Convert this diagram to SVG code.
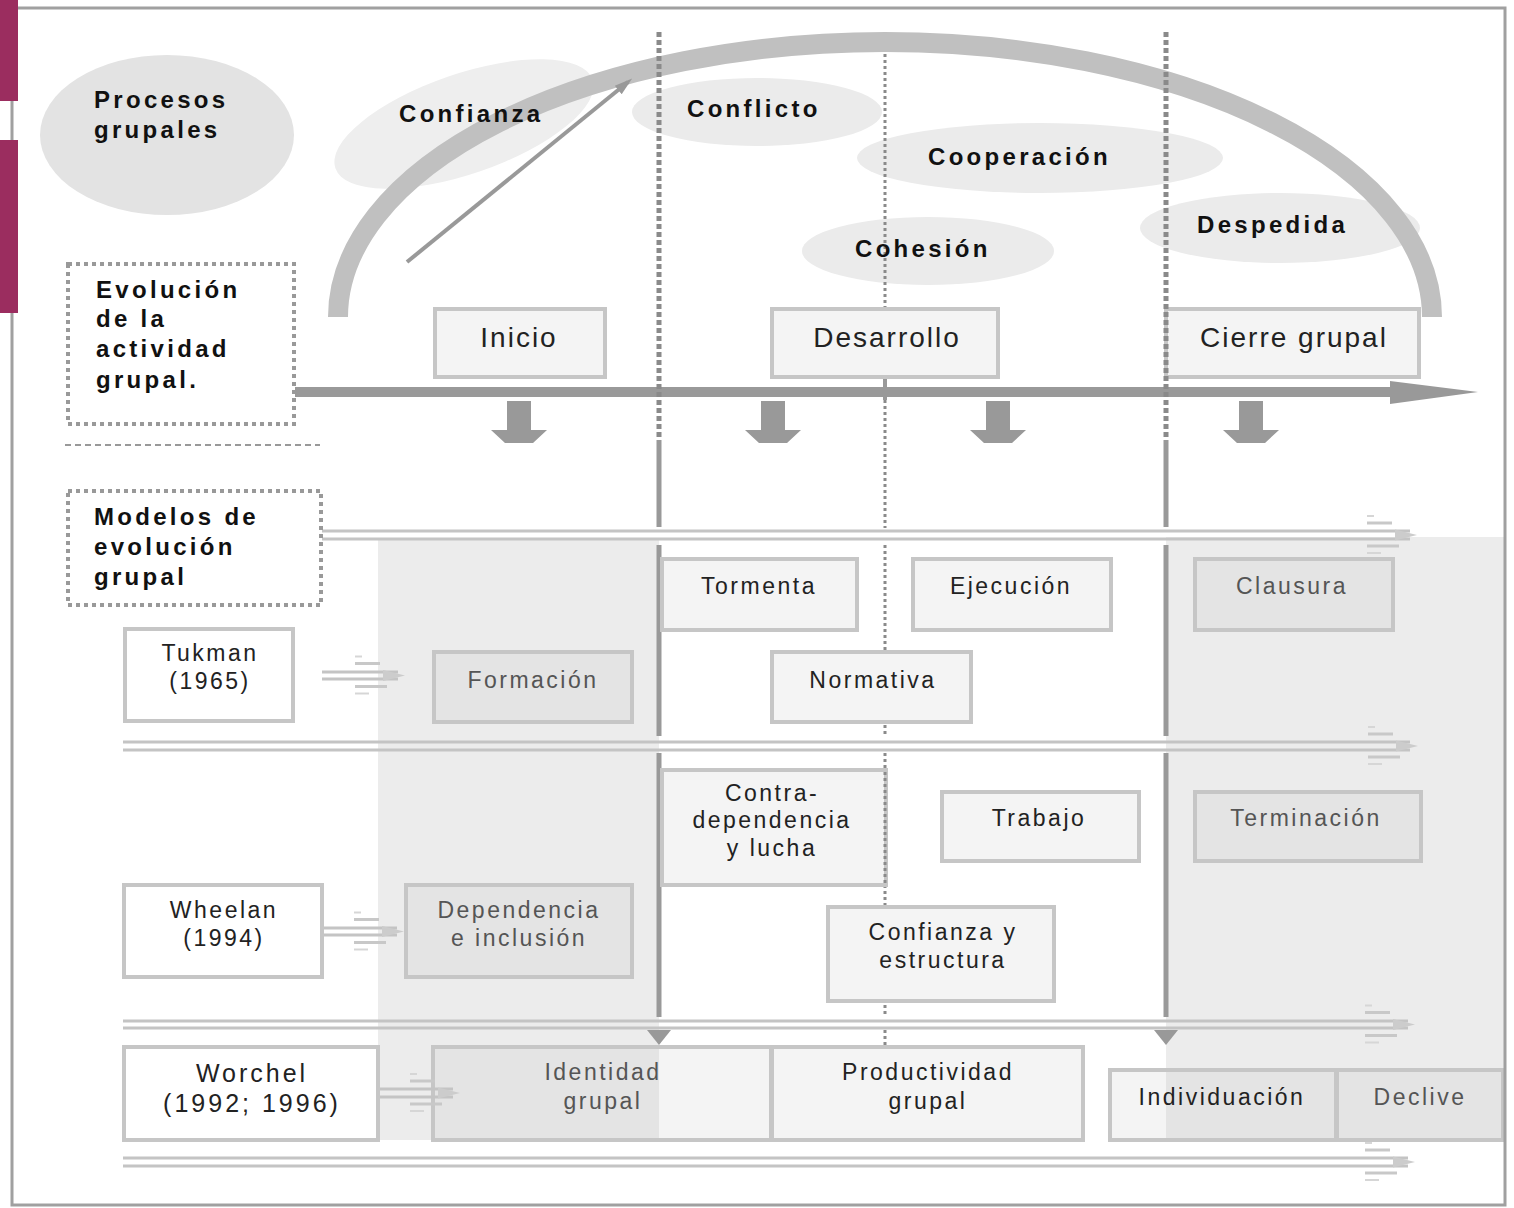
<svg xmlns="http://www.w3.org/2000/svg" width="1514" height="1208" viewBox="0 0 1514 1208">
<defs>
<style>
.b{font-family:"Liberation Sans",Arial,sans-serif;font-weight:bold;font-size:24px;letter-spacing:3.3px;fill:#111}
.t{font-family:"Liberation Sans",Arial,sans-serif;font-size:23px;letter-spacing:2.5px;fill:#222;text-anchor:middle}
.tg{fill:#555}
.ph{font-size:28px;letter-spacing:2px}
.wo{font-size:25px;letter-spacing:3px}
.box{stroke:#c6c6c6;stroke-width:4}
.nf{fill:none}
.lt{fill:#f4f4f4}
.dk{fill:#e4e4e4}
.wh{fill:#fff}
.el{fill:#ebebeb}
.row{stroke:#c4c4c4;stroke-width:3;fill:none}
.vs{stroke:#999;stroke-width:5;fill:none}
.vd{stroke:#8a8a8a;stroke-width:5;stroke-dasharray:5 3;fill:none}
.vt{stroke:#8a8a8a;stroke-width:3;stroke-dasharray:3 3;fill:none}
.dot{fill:none;stroke:#999;stroke-width:4;stroke-dasharray:4 4}
</style>
<g id="tip">
<path d="M-50 -19h7" stroke="#d6d6d6" stroke-width="2" fill="none"/>
<path d="M-50 -12h25" stroke="#c8c8c8" stroke-width="3" fill="none"/>
<path d="M-50 11h32" stroke="#c8c8c8" stroke-width="3" fill="none"/>
<path d="M-50 18h14" stroke="#d6d6d6" stroke-width="2" fill="none"/>
<polygon points="-22,-5.5 0,0 -22,5.5" fill="#cccccc"/>
</g>
<polygon id="down" points="-12,401 12,401 12,430 28,430 14,443 -14,443 -28,430 -12,430" fill="#999"/>
<polygon id="vtri" points="-12,1030 12,1030 0,1045" fill="#999"/>
<marker id="ah" viewBox="0 0 10 10" refX="7" refY="5" markerWidth="4.5" markerHeight="4.5" orient="auto">
<path d="M0,2 L10,5 L0,8 z" fill="#999"/>
</marker>
</defs>

<rect width="1514" height="1208" fill="#fff"/>

<!-- shaded regions -->
<rect x="378" y="540" width="281" height="600" fill="#ececec"/>
<rect x="1166" y="537" width="339" height="533" fill="#ececec"/>

<!-- process ellipses -->
<g id="procesos">
<ellipse cx="167" cy="135" rx="127" ry="80" fill="#e3e3e3"/>
<text class="b" x="94" y="108">Procesos</text>
<text class="b" x="94" y="138">grupales</text>
</g>
<g id="confianza">
<ellipse cx="464" cy="124" rx="136" ry="50" transform="rotate(-19 464 124)" fill="#eeeeee"/>
</g>
<g id="conflicto"><ellipse class="el" cx="757" cy="112" rx="125" ry="34"/></g>
<g id="cooperacion"><ellipse class="el" cx="1040" cy="158" rx="183" ry="35"/></g>
<g id="cohesion"><ellipse class="el" cx="928" cy="251" rx="126" ry="34"/></g>
<g id="despedida"><ellipse class="el" cx="1280" cy="228" rx="140" ry="35"/></g>

<!-- connectors -->
<g id="connectors">
<path d="M338 317 A547 275 0 0 1 1432 317" fill="none" stroke="#c0c0c0" stroke-width="20"/>
<line x1="407" y1="262" x2="628" y2="82" stroke="#999" stroke-width="4" marker-end="url(#ah)"/>
<path class="vt" d="M885 54V307M885 400V528M885 545V736M885 753V1017M885 1030V1047"/>
<path d="M885 378V400" stroke="#999" stroke-width="4"/>
<path class="vs" d="M659 440V527M659 545V736M659 753V1017M1166 440V527M1166 545V736M1166 753V1017"/>
<use href="#vtri" x="659"/>
<use href="#vtri" x="1166"/>
<line x1="295" y1="392" x2="1395" y2="392" stroke="#999" stroke-width="10"/>
<polygon points="1390,381 1478,392 1390,404" fill="#999"/>
<use href="#down" x="519"/>
<use href="#down" x="773"/>
<use href="#down" x="998"/>
<use href="#down" x="1251"/>
<line x1="65" y1="445" x2="320" y2="445" stroke="#999" stroke-width="2" stroke-dasharray="6 4"/>
<path class="row" d="M322 531H1410M322 539H1410"/>
<use href="#tip" x="1417" y="535"/>
<path class="row" d="M123 742H1410M123 750H1410"/>
<use href="#tip" x="1418" y="746"/>
<path class="row" d="M123 1021H1408M123 1028H1408"/>
<use href="#tip" x="1415" y="1024.5"/>
<path class="row" d="M123 1158H1408M123 1166H1408"/>
<use href="#tip" x="1415" y="1162"/>
<path class="row" d="M322 672H398M322 679H398"/>
<use href="#tip" x="405" y="675.5"/>
<path class="row" d="M324 928H397M324 935H397"/>
<use href="#tip" x="404" y="931.5"/>
</g>

<!-- labels in ellipses -->
<text class="b" x="399" y="122">Confianza</text>
<text class="b" x="687" y="117">Conflicto</text>
<text class="b" x="928" y="165">Cooperación</text>
<text class="b" x="855" y="257">Cohesión</text>
<text class="b" x="1197" y="233">Despedida</text>

<!-- phase boxes -->
<g id="inicio"><rect class="box lt" x="435" y="309" width="170" height="68"/><text class="t ph" x="519" y="347">Inicio</text></g>
<g id="desarrollo"><rect class="box lt" x="772" y="309" width="226" height="68"/><text class="t ph" x="887" y="347">Desarrollo</text></g>
<g id="cierre"><rect class="box lt" x="1166" y="309" width="253" height="68"/><text class="t ph" x="1294" y="347">Cierre grupal</text></g>

<path class="vd" d="M659 32V440M1166 32V440"/>

<g id="evolucion">
<rect class="dot" x="68" y="264" width="226" height="160"/>
<text class="b" x="96" y="298">Evolución</text>
<text class="b" x="96" y="327">de la</text>
<text class="b" x="96" y="357">actividad</text>
<text class="b" x="96" y="388">grupal.</text>
</g>
<g id="modelos">
<rect class="dot" x="68" y="491" width="253" height="114"/>
<text class="b" x="94" y="525">Modelos de</text>
<text class="b" x="94" y="555">evolución</text>
<text class="b" x="94" y="585">grupal</text>
</g>

<g id="tukman"><rect class="box wh" x="125" y="629" width="168" height="92"/><text class="t" x="210" y="661">Tukman</text><text class="t" x="210" y="689">(1965)</text></g>
<g id="formacion"><rect class="box dk" x="434" y="652" width="198" height="70"/><text class="t tg" x="533" y="688">Formación</text></g>
<g id="tormenta"><rect class="box lt" x="662" y="559" width="195" height="71"/><text class="t" x="759" y="594">Tormenta</text></g>
<g id="ejecucion"><rect class="box lt" x="913" y="559" width="198" height="71"/><text class="t" x="1011" y="594">Ejecución</text></g>
<g id="clausura"><rect class="box dk" x="1195" y="559" width="198" height="71"/><text class="t tg" x="1292" y="594">Clausura</text></g>
<g id="normativa"><rect class="box lt" x="772" y="652" width="199" height="70"/><text class="t" x="873" y="688">Normativa</text></g>

<g id="contra"><rect class="box lt" x="662" y="770" width="224" height="115"/><path class="vt" d="M885 772V883"/><text class="t" x="772" y="801">Contra-</text><text class="t" x="772" y="828">dependencia</text><text class="t" x="772" y="856">y lucha</text></g>
<g id="trabajo"><rect class="box lt" x="942" y="792" width="197" height="69"/><text class="t" x="1039" y="826">Trabajo</text></g>
<g id="terminacion"><rect class="box dk" x="1195" y="792" width="226" height="69"/><text class="t tg" x="1306" y="826">Terminación</text></g>
<g id="wheelan"><rect class="box wh" x="124" y="885" width="198" height="92"/><text class="t" x="224" y="918">Wheelan</text><text class="t" x="224" y="946">(1994)</text></g>
<g id="dependencia"><rect class="box dk" x="406" y="885" width="226" height="92"/><text class="t tg" x="519" y="918">Dependencia</text><text class="t tg" x="519" y="946">e inclusión</text></g>
<g id="confianzaestructura"><rect class="box lt" x="828" y="907" width="226" height="94"/><text class="t" x="943" y="940">Confianza y</text><text class="t" x="943" y="968">estructura</text></g>

<g id="worchel"><rect class="box wh" x="124" y="1047" width="254" height="93"/><text class="t wo" x="252" y="1082">Worchel</text><text class="t wo" x="252" y="1112">(1992; 1996)</text></g>
<g id="identidad">
<rect class="dk" x="433" y="1047" width="226" height="93"/>
<rect class="lt" x="659" y="1047" width="112" height="93"/>
<rect class="box nf" x="433" y="1047" width="338" height="93"/>
<text class="t tg" x="603" y="1080">Identidad</text><text class="t tg" x="603" y="1109">grupal</text>
</g>
<g id="connector-worchel">
<path class="row" d="M380 1089H453M380 1097H453"/>
<use href="#tip" x="460" y="1093"/>
</g>
<g id="productividad"><rect class="box lt" x="772" y="1047" width="311" height="93"/><text class="t" x="928" y="1080">Productividad</text><text class="t" x="928" y="1109">grupal</text></g>
<g id="individuacion">
<rect class="lt" x="1110" y="1070" width="56" height="70"/>
<rect class="dk" x="1166" y="1070" width="170" height="70"/>
<rect class="box nf" x="1110" y="1070" width="226" height="70"/>
<text class="t" x="1222" y="1105">Individuación</text>
</g>
<g id="declive"><rect class="box dk" x="1337" y="1070" width="166" height="70"/><text class="t tg" x="1420" y="1105">Declive</text></g>

<rect x="12" y="8" width="1493" height="1197" fill="none" stroke="#a0a0a0" stroke-width="3"/>
<rect x="0" y="0" width="18" height="101" fill="#9b2d5f"/>
<rect x="0" y="140" width="18" height="173" fill="#9b2d5f"/>
</svg>
